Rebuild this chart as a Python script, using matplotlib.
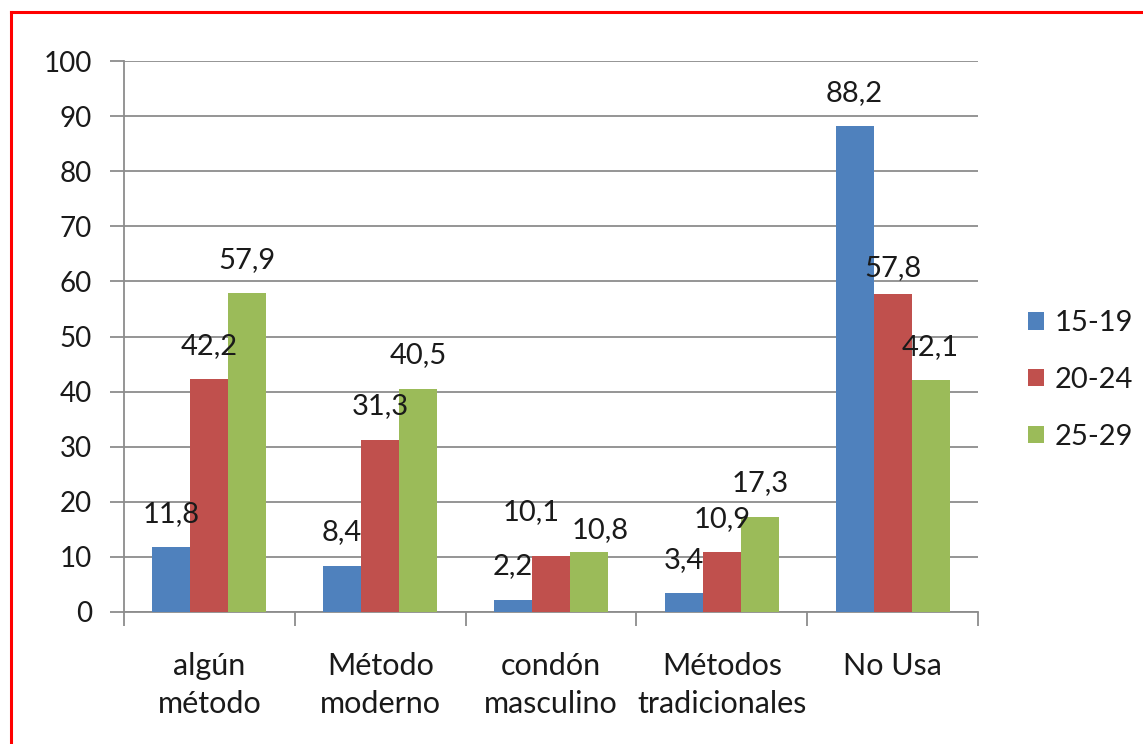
import matplotlib.pyplot as plt
import numpy as np
from matplotlib.lines import Line2D

categories = ['algún\nmétodo', 'Método\nmoderno', 'condón\nmasculino',
              'Métodos\ntradicionales', 'No Usa']
series_names = ['15-19', '20-24', '25-29']
v_15_19 = [11.8, 8.4, 2.2, 3.4, 88.2]
v_20_24 = [42.2, 31.3, 10.1, 10.9, 57.8]
v_25_29 = [57.9, 40.5, 10.8, 17.3, 42.1]
colors = ['#4F81BD', '#C0504D', '#9BBB59']

# small manual nudges (points) for labels that sit off-centre in the original
nudge = {(1, 2): (-14, 8), (2, 2): (8, -8), (1, 4): (0, -6)}

plt.rcParams['font.family'] = ['Lato', 'DejaVu Sans']

W, H = 1143, 744
fig = plt.figure(figsize=(W / 100, H / 100), dpi=100)
fig.patch.set_facecolor('white')

# red frame (top and left edges visible)
fig.add_artist(Line2D([11 / W, 11 / W], [0, 1 - 12 / H], color='#FF0000', lw=2.2,
                      transform=fig.transFigure))
fig.add_artist(Line2D([11 / W, 1], [1 - 12 / H, 1 - 12 / H], color='#FF0000', lw=2.2,
                      transform=fig.transFigure))

ax = fig.add_axes([124 / W, (H - 612) / H, (978 - 124) / W, (612 - 61) / H])
ax.set_facecolor('none')

x = np.arange(len(categories))
bw = 1 / 4.5
values = [v_15_19, v_20_24, v_25_29]
for i, (name, vals, c) in enumerate(zip(series_names, values, colors)):
    pos = x + (i - 1) * bw
    ax.bar(pos, vals, width=bw, color=c, label=name, zorder=3)
    for j, (px, v) in enumerate(zip(pos, vals)):
        dx, dy = nudge.get((i, j), (0, 0))
        ax.annotate(('%.1f' % v).replace('.', ','), (px, v), xytext=(dx, 24 + dy),
                    textcoords='offset points', ha='center', va='center',
                    fontsize=21, color='#1a1a1a', zorder=4)

ax.set_xlim(-0.5, len(categories) - 0.5)
ax.set_ylim(0, 100)
ax.set_yticks(np.arange(0, 101, 10))
ax.yaxis.grid(True, color='#8c8c8c', lw=1.3, zorder=0)
ax.tick_params(axis='y', length=10, width=1.3, color='#8c8c8c', pad=13,
               labelsize=20, labelcolor='#1a1a1a')

ax.set_xticks(np.arange(-0.5, len(categories)), minor=False)
ax.set_xticklabels([])
ax.set_xticks(x, minor=True)
ax.set_xticklabels(categories, minor=True)
ax.tick_params(axis='x', which='major', length=10, width=1.3, color='#8c8c8c')
ax.tick_params(axis='x', which='minor', length=0, pad=29, labelsize=22,
               labelcolor='#1a1a1a')
for lbl in ax.get_xticklabels(minor=True):
    lbl.set_linespacing(1.42)

for s in ['top', 'right']:
    ax.spines[s].set_visible(False)
for s in ['left', 'bottom']:
    ax.spines[s].set_color('#8c8c8c')
    ax.spines[s].set_linewidth(1.3)

fig.legend(loc='center left', bbox_to_anchor=(1028 / W, 1 - 380 / H), frameon=False,
           fontsize=21, handlelength=0.55, handleheight=0.55, handletextpad=0.35,
           labelspacing=1.05, borderpad=0, borderaxespad=0, labelcolor='#1a1a1a')

fig.savefig('out.png', dpi=100)
